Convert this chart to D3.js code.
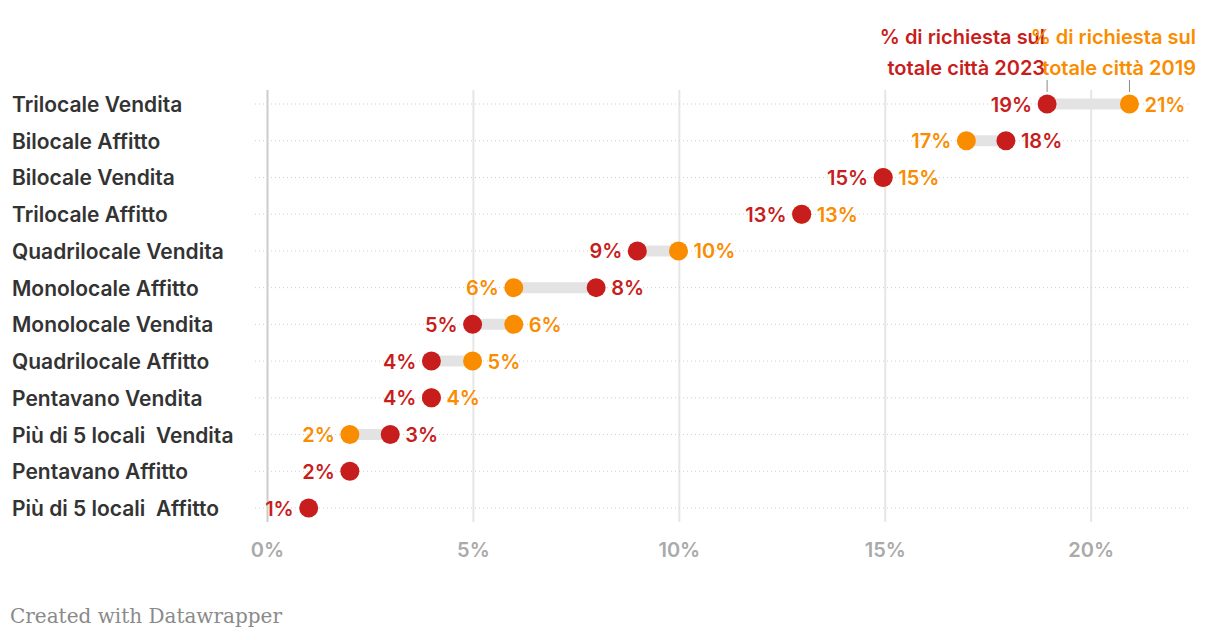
<!DOCTYPE html>
<html><head><meta charset="utf-8">
<script src="https://cdn.jsdelivr.net/npm/d3@7"></script>
<style>
body{margin:0;background:#fff;}
svg{display:block;}
text{white-space:pre;}
</style></head>
<body>
<svg id="c" width="1220" height="640"></svg>
<script>
const categories = ["Trilocale Vendita","Bilocale Affitto","Bilocale Vendita","Trilocale Affitto","Quadrilocale Vendita","Monolocale Affitto","Monolocale Vendita","Quadrilocale Affitto","Pentavano Vendita","Più di 5 locali  Vendita","Pentavano Affitto","Più di 5 locali  Affitto"];
const values2023 = [18.93, 17.93, 14.95, 12.97, 8.98, 7.98, 4.98, 3.98, 3.98, 2.98, 2, 1];
const values2019 = [20.93, 16.97, 14.95, 12.97, 9.98, 5.98, 5.98, 4.98, 3.98, 2, null, null];
const xTicks = [0, 5, 10, 15, 20];
const seriesNames = ["% di richiesta sul|totale città 2023", "% di richiesta sul|totale città 2019"];

const RED = "#c71e1d", ORANGE = "#fa8c00";
const FONT = "Inter, 'Noto Sans', sans-serif";
const svg = d3.select("#c");

const x = d3.scaleLinear().domain([0, 22.4]).range([267.5, 1190]);
const y = d3.scalePoint().domain(categories).range([104, 508]);

// vertical grid
const g = svg.append("g");
g.selectAll("line.v").data(xTicks).join("line")
  .attr("x1", d => x(d)).attr("x2", d => x(d))
  .attr("y1", 90).attr("y2", 522)
  .attr("stroke", d => d === 0 ? "#cccccc" : "#e6e6e6")
  .attr("stroke-width", 2);

// horizontal dotted lines
g.selectAll("line.h").data(categories).join("line")
  .attr("x1", 255).attr("x2", 1190)
  .attr("y1", d => y(d)).attr("y2", d => y(d))
  .attr("stroke", "#cfcfcf").attr("stroke-width", 1)
  .attr("stroke-dasharray", "1,3");

// x axis labels
g.selectAll("text.tick").data(xTicks).join("text")
  .attr("x", d => x(d)).attr("y", 557)
  .attr("text-anchor", "middle")
  .attr("font-family", FONT).attr("font-weight", 600)
  .attr("font-size", 20).attr("fill", "#aaaaaa")
  .text(d => d + "%");

// row labels
g.selectAll("text.cat").data(categories).join("text")
  .attr("x", 12).attr("y", d => y(d) + 8)
  .attr("font-family", FONT).attr("font-weight", 600)
  .attr("font-size", 21).attr("fill", "#333333")
  .text(d => d);

const rows = categories.map((c, i) => ({c, a: values2023[i], b: values2019[i]}));

// connectors
g.selectAll("line.conn").data(rows.filter(r => r.b != null && r.a !== r.b)).join("line")
  .attr("x1", r => x(Math.min(r.a, r.b))).attr("x2", r => x(Math.max(r.a, r.b)))
  .attr("y1", r => y(r.c)).attr("y2", r => y(r.c))
  .attr("stroke", "#e3e3e3").attr("stroke-width", 11);

// dots: orange first, red on top
g.selectAll("circle.o").data(rows.filter(r => r.b != null)).join("circle")
  .attr("cx", r => x(r.b)).attr("cy", r => y(r.c)).attr("r", 9.5).attr("fill", ORANGE);
g.selectAll("circle.r").data(rows).join("circle")
  .attr("cx", r => x(r.a)).attr("cy", r => y(r.c)).attr("r", 9.5).attr("fill", RED);

// value labels
const labels = [];
rows.forEach(r => {
  if (r.b == null) {
    labels.push({v: r.a, x: x(r.a) - 15, anchor: "end", col: RED, c: r.c});
  } else if (r.a <= r.b) {
    labels.push({v: r.a, x: x(r.a) - 15, anchor: "end", col: RED, c: r.c});
    labels.push({v: r.b, x: x(r.b) + 15, anchor: "start", col: ORANGE, c: r.c});
  } else {
    labels.push({v: r.b, x: x(r.b) - 15, anchor: "end", col: ORANGE, c: r.c});
    labels.push({v: r.a, x: x(r.a) + 15, anchor: "start", col: RED, c: r.c});
  }
});
g.selectAll("text.val").data(labels).join("text")
  .attr("x", d => d.x).attr("y", d => y(d.c) + 7.5)
  .attr("text-anchor", d => d.anchor)
  .attr("font-family", FONT).attr("font-weight", 600)
  .attr("font-size", 20).attr("fill", d => d.col)
  .text(d => Math.round(d.v) + "%");

// series header labels
const hdr = [
  {name: seriesNames[0], xv: values2023[0], col: RED, tx: x(values2023[0]) - 2},
  {name: seriesNames[1], xv: values2019[0], col: ORANGE, tx: 1196}
];
hdr.forEach(h => {
  g.append("line").attr("x1", x(h.xv)).attr("x2", x(h.xv))
    .attr("y1", 80).attr("y2", 92).attr("stroke", "#888").attr("stroke-width", 1);
  const t = g.append("text").attr("text-anchor", "end")
    .attr("font-family", FONT).attr("font-weight", 600)
    .attr("font-size", 20).attr("fill", h.col);
  h.name.split("|").forEach((ln, i) => {
    t.append("tspan").attr("x", h.tx).attr("y", 44 + i * 31).text(ln);
  });
});

// footer
svg.append("text").attr("x", 10).attr("y", 623)
  .attr("font-family", "'DejaVu Serif', 'Liberation Serif', serif")
  .attr("font-size", 20).attr("fill", "#8a8a8a")
  .text("Created with Datawrapper");
</script>
</body></html>
